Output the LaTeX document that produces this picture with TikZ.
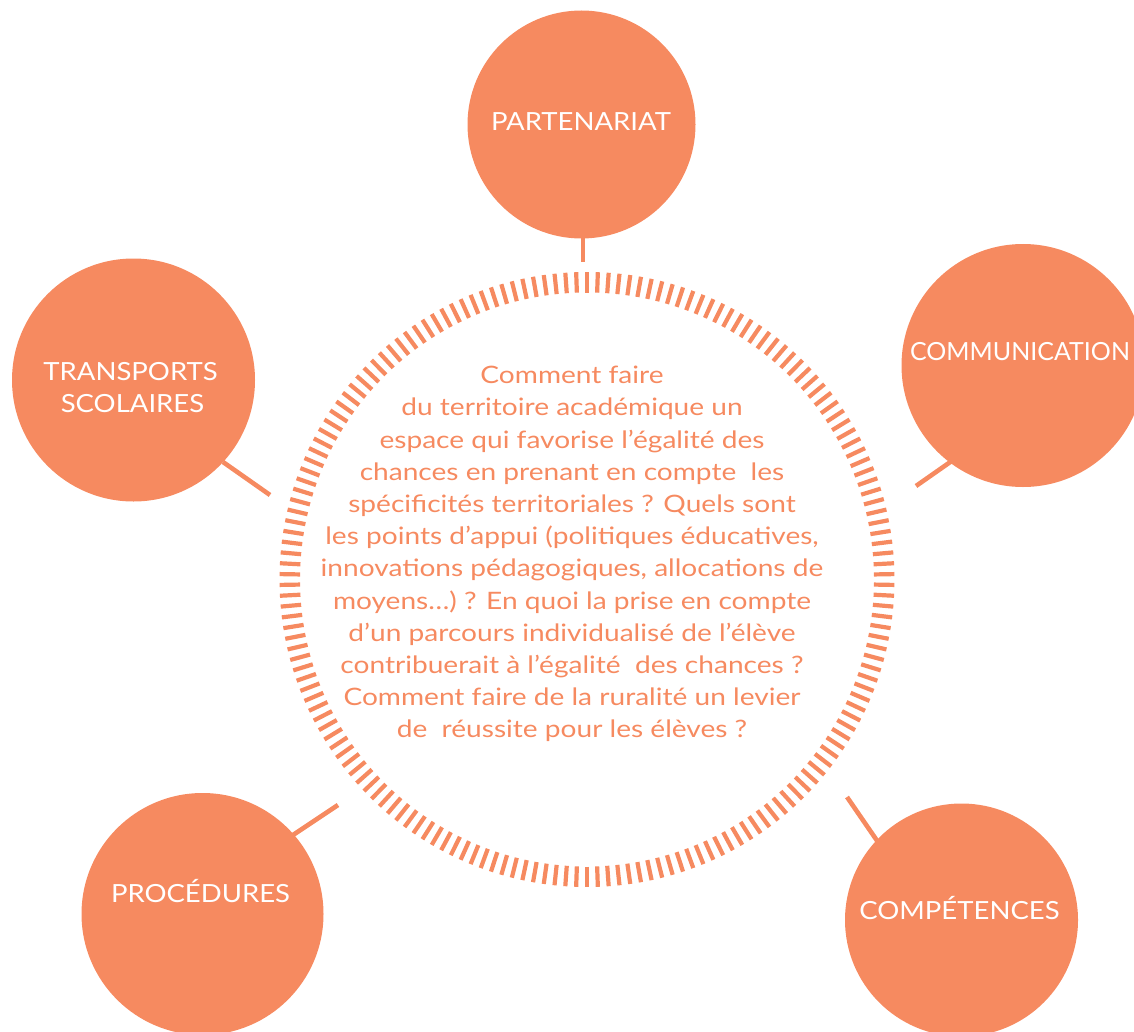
\documentclass[tikz,border=0pt]{standalone}
\usepackage{fontspec}
\setmainfont{Lato}
\newfontfamily\widefont{Lato}[FakeStretch=1.17]
\newfontfamily\labelfont{Lato}[FakeStretch=1.1]
\usetikzlibrary{calc}
\definecolor{peach}{HTML}{F68A60}
\begin{document}
\begin{tikzpicture}[x=1pt,y=-1pt,
  bubble/.style={circle,fill=peach,draw=none,inner sep=0pt},
  bubbletext/.style={text=white,font=\labelfont\fontsize{25}{32}\selectfont,anchor=base,inner sep=0pt,align=center},
  link/.style={draw=peach,line width=4.6pt},
  tick/.style={draw=peach,line width=4.2pt},
  question/.style={text=peach,font=\widefont\fontsize{24}{32.2}\selectfont,align=center,inner sep=0pt}]
\useasboundingbox (0,0) rectangle (1134,1032);
% connector end points
\coordinate (partA) at (583,200);  \coordinate (partB) at (583,262);
\coordinate (commA) at (966,451);  \coordinate (commB) at (916,486);
\coordinate (transA) at (223,462); \coordinate (transB) at (270,495);
\coordinate (procA) at (293,835);  \coordinate (procB) at (338,805);
\coordinate (compA) at (880,845);  \coordinate (compB) at (847,797);
\draw[link] (partA) -- (partB);
\draw[link] (commA) -- (commB);
\draw[link] (transA) -- (transB);
\draw[link] (procA) -- (procB);
\draw[link] (compA) -- (compB);
% bubbles
\node[bubble,minimum size=228pt] (part) at (581.5,124.5) {};
\node[bubble,minimum size=243pt] (comm) at (1023,365.5) {};
\node[bubble,minimum size=243pt] (trans) at (133.5,380) {};
\node[bubble,minimum size=242pt] (proc) at (202.5,914) {};
\node[bubble,minimum size=233pt] (comp) at (961.5,920) {};
\node[bubbletext] (partt) at (581,131) {PARTENARIAT};
\node[bubbletext,font=\fontsize{25}{32}\selectfont] (commt) at (1020,360) {COMMUNICATION};
\node[bubbletext] (transt1) at (130.5,380) {TRANSPORTS};
\node[bubbletext] (transt2) at (132.5,412) {SCOLAIRES};
\node[bubbletext] (proct) at (200.5,902) {PROCÉDURES};
\node[bubbletext] (compt) at (959.5,919) {COMPÉTENCES};
% dashed ring
\coordinate (ring) at (587,579.5);
\foreach \i in {0,...,177}{
  \pgfmathsetmacro{\ang}{90+\i*2.022472}
  \draw[tick] ($(ring)+(\ang:287)$) -- ($(ring)+(\ang:307.5)$);
}
% central question
\node[question] (q) at (572,554) {Comment faire\\
du territoire académique un\\
espace qui favorise l’égalité des\\
chances en prenant en compte\ \ les\\
spécificités territoriales ? Quels sont\\
les points d’appui (politiques éducatives,\\
innovations pédagogiques, allocations de\\
moyens…) ? En quoi la prise en compte\\
d’un parcours individualisé de l’élève\\
contribuerait à l’égalité\ \ des chances ?\\
Comment faire de la ruralité un levier\\
de\ \ réussite pour les élèves ?};
\end{tikzpicture}
\end{document}
